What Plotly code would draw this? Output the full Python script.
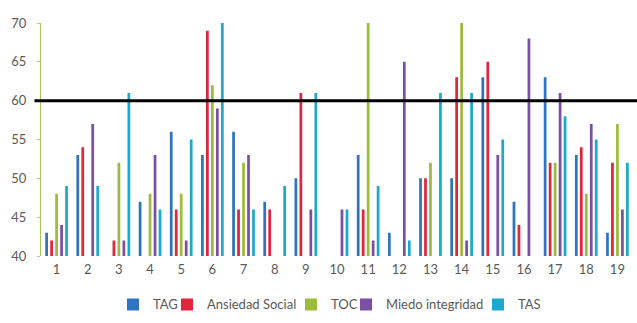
import plotly.graph_objects as go

categories = [str(i) for i in range(1, 20)]
tag =      [43, 53, None, 47, 56, 53, 56, 47, 50, None, 53, 43, 50, 50, 63, 47, 63, 53, 43]
ansiedad = [42, 54, 42, None, 46, 69, 46, 46, 61, None, 46, None, 50, 63, 65, 44, 52, 54, 52]
toc =      [48, None, 52, 48, 48, 62, 52, None, None, None, 70, None, 52, 70, None, None, 52, 48, 57]
miedo =    [44, 57, 42, 53, 42, 59, 53, None, 46, 46, 42, 65, None, 42, 53, 68, 61, 57, 46]
tas =      [49, 49, 61, 46, 55, 70, 46, 49, 61, 46, 49, 42, 61, 61, 55, None, 58, 55, 52]
threshold = 60

series = [
    ("TAG", tag, "#2F74C0"),
    ("Ansiedad Social", ansiedad, "#E0253C"),
    ("TOC", toc, "#9DBB3C"),
    ("Miedo integridad", miedo, "#7B50A2"),
    ("TAS", tas, "#1AAACB"),
]
legend_ids = ["legend", "legend2", "legend3", "legend4", "legend5"]
legend_x = [0.1216, 0.2128, 0.4223, 0.5152, 0.7382]

fig = go.Figure()
for (name, vals, color), lid in zip(series, legend_ids):
    fig.add_trace(go.Bar(x=categories, y=vals, name=name, marker_color=color,
                         marker_line_width=0, legend=lid))

fig.add_shape(type="line", xref="paper", yref="y", x0=-0.011, x1=1.02,
              y0=threshold, y1=threshold, line=dict(color="black", width=3))

legend_style = dict(orientation="h", xanchor="left", y=-0.208, yanchor="middle",
                    font=dict(family="Lato, Open Sans, sans-serif", size=13, color="#595959"),
                    itemwidth=30, bgcolor="rgba(0,0,0,0)")
legends = {lid: dict(x=lx, **legend_style) for lid, lx in zip(legend_ids, legend_x)}

fig.update_layout(
    width=637, height=323,
    margin=dict(l=41, r=4, t=23, b=60),
    paper_bgcolor="white", plot_bgcolor="white",
    barmode="group", bargap=0.2, bargroupgap=0.45,
    font=dict(family="Lato, Open Sans, sans-serif", size=12, color="#595959"),
    xaxis=dict(type="category", showline=False, ticks="", showgrid=False,
               automargin=False, ticklabelstandoff=4,
               tickfont=dict(size=13, color="#595959")),
    yaxis=dict(range=[40, 70], tickvals=[40, 45, 50, 55, 60, 65, 70],
               showgrid=False, zeroline=False, showline=True, linecolor="#A6C35A",
               linewidth=1, ticks="outside", ticklen=3, tickcolor="#BBBBBB",
               automargin=False, ticklabelstandoff=8,
               tickfont=dict(size=13, color="#595959")),
    showlegend=True,
    **legends,
)

fig.write_html("out.html", config={"displayModeBar": False},
               post_script="document.body.style.margin='0';document.body.style.overflow='hidden';")
